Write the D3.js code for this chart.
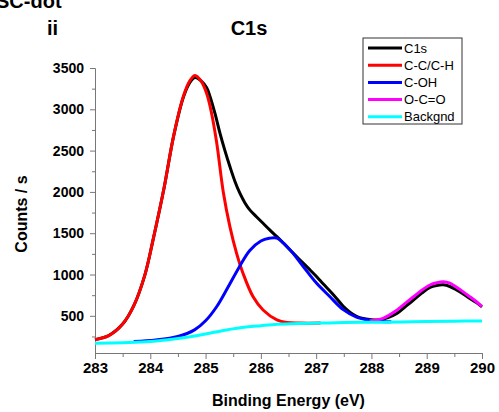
<!DOCTYPE html>
<html>
<head>
<meta charset="utf-8">
<script src="https://cdn.jsdelivr.net/npm/d3@7"></script>
<style>
  body { margin: 0; background: #fff; }
  svg { font-family: Arial, "Liberation Sans", sans-serif; }
  .axis path, .axis line { stroke: #777; }
  .axis text { font-weight: bold; fill: #000; }
</style>
</head>
<body>
<div id="chart"></div>
<script>
// binding energies (eV) and counts
var c1sE = [283.0, 283.25, 283.5, 283.7, 283.9, 284.05, 284.25, 284.42, 284.6, 284.72, 284.81, 284.92, 285.02, 285.08, 285.17, 285.26, 285.35, 285.44, 285.53, 285.62, 285.71, 285.8, 285.92, 286.04, 286.16, 286.29, 286.41, 286.53, 286.65, 286.77, 286.89, 287.01, 287.13, 287.25, 287.37, 287.49, 287.61, 287.73, 287.85, 287.97, 288.15, 288.3, 288.46, 288.61, 288.76, 288.91, 289.06, 289.18, 289.3, 289.42, 289.54, 289.66, 289.78, 289.9, 290.0];
var c1sY = [212, 262, 400, 620, 990, 1420, 2050, 2670, 3150, 3330, 3385, 3345, 3260, 3156, 2950, 2712, 2500, 2307, 2130, 1984, 1870, 1782, 1700, 1620, 1540, 1458, 1378, 1297, 1215, 1136, 1055, 973, 885, 800, 710, 615, 545, 495, 467, 455, 450, 480, 529, 610, 691, 775, 845, 868, 875, 855, 812, 765, 711, 660, 609];

var cchE = [283.0, 283.25, 283.5, 283.7, 283.9, 284.05, 284.25, 284.42, 284.6, 284.72, 284.81, 284.92, 285.02, 285.1, 285.2, 285.32, 285.44, 285.56, 285.68, 285.86, 286.04, 286.29, 286.47, 286.7, 287.08];
var cchY = [212, 260, 400, 620, 990, 1420, 2050, 2670, 3160, 3350, 3410, 3340, 3190, 2980, 2600, 2000, 1580, 1260, 1010, 730, 570, 450, 418, 412, 412];

var cohE = [283.7, 284.1, 284.5, 284.8, 285.0, 285.2, 285.4, 285.6, 285.8, 286.0, 286.15, 286.29, 286.53, 286.77, 287.01, 287.25, 287.49, 287.73, 287.97, 288.2, 288.36];
var cohY = [190, 208, 250, 330, 440, 610, 840, 1080, 1290, 1405, 1438, 1440, 1297, 1094, 893, 731, 575, 485, 448, 432, 428];

var occE = [287.97, 288.21, 288.46, 288.61, 288.76, 288.91, 289.06, 289.18, 289.3, 289.42, 289.54, 289.66, 289.78, 289.9, 290.0];
var occY = [440, 469, 569, 650, 731, 810, 873, 900, 913, 895, 845, 790, 731, 670, 615];

var bgE = [283.0, 283.5, 284.0, 284.5, 285.0, 285.3, 285.6, 286.0, 286.3, 286.7, 287.1, 287.5, 288.0, 288.5, 289.0, 289.5, 290.0];
var bgY = [168, 175, 188, 225, 280, 320, 352, 380, 398, 408, 412, 418, 422, 425, 430, 435, 438];

var seriesNames = ["C1s", "C-C/C-H", "C-OH", "O-C=O", "Backgnd"];
var seriesColors = ["#000000", "#ff0000", "#0000ff", "#ff00ff", "#00ffff"];
var xTicks = [283, 284, 285, 286, 287, 288, 289, 290];
var yTicks = [500, 1000, 1500, 2000, 2500, 3000, 3500];

var series = [[c1sE, c1sY], [cchE, cchY], [cohE, cohY], [occE, occY], [bgE, bgY]].map(function (s, i) {
    return {
        name: seriesNames[i],
        color: seriesColors[i],
        values: s[0].map(function (e, j) { return { e: e, v: s[1][j] }; })
    };
});

var width = 499, height = 412;
var margin = { top: 68, right: 17, bottom: 59, left: 95 };

var svg = d3.select("#chart").append("svg")
    .attr("width", width)
    .attr("height", height);

var xScale = d3.scaleLinear().domain([283, 290]).range([margin.left, width - margin.right]);
var yScale = d3.scaleLinear().domain([50, 3500]).range([height - margin.bottom, margin.top]);

// minor ticks first, then the major axes on top
var xMinor = d3.range(283.5, 290, 1);
var yMinor = d3.range(250, 3500, 500);

svg.append("g")
    .attr("class", "axis")
    .attr("transform", "translate(0," + (height - margin.bottom) + ")")
    .call(d3.axisBottom(xScale).tickValues(xMinor).tickSize(4).tickFormat("").tickSizeOuter(0));

svg.append("g")
    .attr("class", "axis")
    .attr("transform", "translate(" + margin.left + ",0)")
    .call(d3.axisLeft(yScale).tickValues(yMinor).tickSize(3).tickFormat("").tickSizeOuter(0));

var xAxis = svg.append("g")
    .attr("class", "axis")
    .attr("transform", "translate(0," + (height - margin.bottom) + ")")
    .call(d3.axisBottom(xScale).tickValues(xTicks).tickFormat(d3.format("d"))
        .tickSize(6).tickPadding(3).tickSizeOuter(0));
xAxis.selectAll("text").style("font-size", "15px");

var yAxis = svg.append("g")
    .attr("class", "axis")
    .attr("transform", "translate(" + margin.left + ",0)")
    .call(d3.axisLeft(yScale).tickValues(yTicks).tickFormat(d3.format("d"))
        .tickSize(5).tickPadding(6).tickSizeOuter(0));
yAxis.selectAll("text").style("font-size", "14px");

var line = d3.line()
    .x(function (d) { return xScale(d.e); })
    .y(function (d) { return yScale(d.v); })
    .curve(d3.curveCatmullRom);

svg.selectAll(".curve")
    .data(series)
    .enter().append("path")
    .attr("class", "curve")
    .attr("d", function (d) { return line(d.values); })
    .attr("fill", "none")
    .attr("stroke", function (d) { return d.color; })
    .attr("stroke-width", 3)
    .attr("stroke-linejoin", "round");

// titles
svg.append("text")
    .attr("x", -4).attr("y", 8)
    .style("font-size", "20px").style("font-weight", "bold")
    .text("SC-dot");

svg.append("text")
    .attr("x", 47).attr("y", 35)
    .style("font-size", "20px").style("font-weight", "bold")
    .text("ii");

svg.append("text")
    .attr("x", 249).attr("y", 35)
    .attr("text-anchor", "middle")
    .style("font-size", "20px").style("font-weight", "bold")
    .text("C1s");

svg.append("text")
    .attr("x", (margin.left + width - margin.right) / 2).attr("y", 406)
    .attr("text-anchor", "middle")
    .style("font-size", "16px").style("font-weight", "bold")
    .text("Binding Energy (eV)");

svg.append("text")
    .attr("transform", "translate(27," + 214 + ") rotate(-90)")
    .attr("text-anchor", "middle")
    .style("font-size", "16px").style("font-weight", "bold")
    .text("Counts / s");

// legend
var legend = svg.append("g").attr("transform", "translate(363,38)");
legend.append("rect")
    .attr("width", 99).attr("height", 86)
    .attr("fill", "#fff").attr("stroke", "#333").attr("stroke-width", 1);

var items = legend.selectAll(".item")
    .data(series)
    .enter().append("g")
    .attr("class", "item")
    .attr("transform", function (d, i) { return "translate(0," + (10 + i * 17.2) + ")"; });

items.append("line")
    .attr("x1", 5).attr("x2", 39)
    .attr("stroke", function (d) { return d.color; })
    .attr("stroke-width", 3);

items.append("text")
    .attr("x", 41).attr("y", 4.5)
    .style("font-size", "13px")
    .text(function (d) { return d.name; });
</script>
</body>
</html>
